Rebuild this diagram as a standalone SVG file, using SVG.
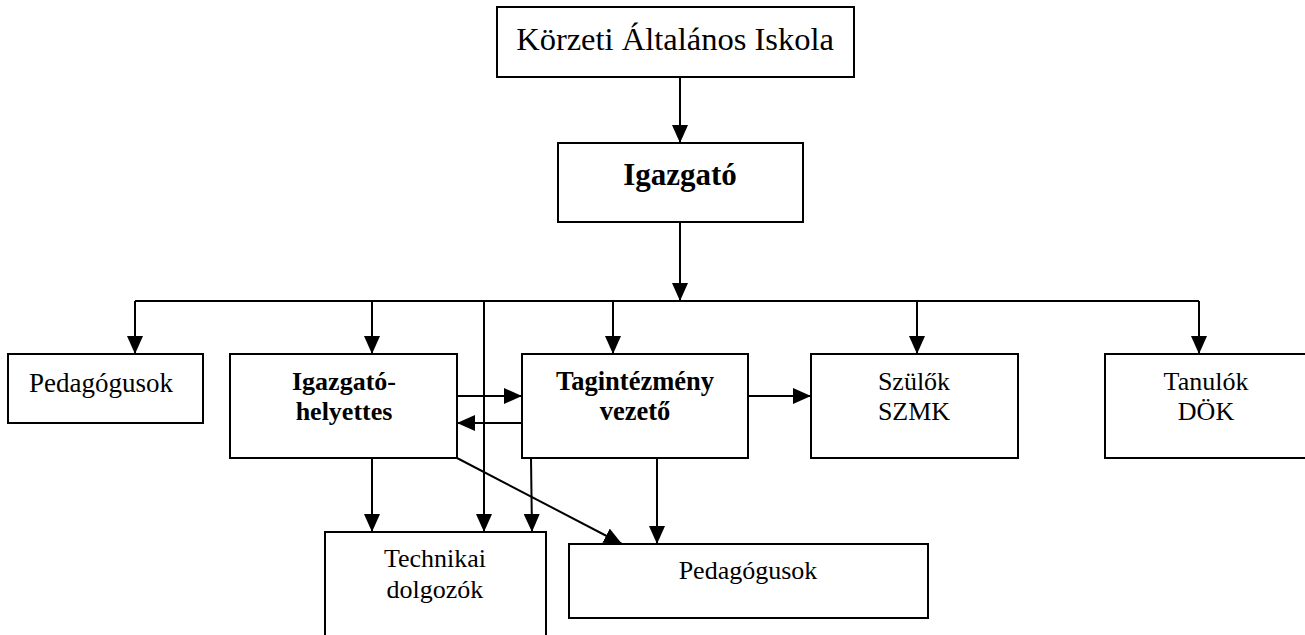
<svg xmlns="http://www.w3.org/2000/svg" width="1305" height="635" viewBox="0 0 1305 635">
<style>
.box{fill:#fff;stroke:#000;stroke-width:2}
.t{font-family:"Liberation Serif","Times New Roman",serif;text-anchor:middle;fill:#000}
.b{font-weight:bold}
.c{stroke:#000;stroke-width:2;fill:none}
.a{marker-end:url(#ah)}
</style>
<defs>
<marker id="ah" viewBox="0 0 18 16" refX="18" refY="8" markerWidth="18" markerHeight="16" markerUnits="userSpaceOnUse" orient="auto">
<path d="M0,0 L18,8 L0,16 z" fill="#000"/>
</marker>
</defs>
<g id="connectors">
<line class="c a" x1="680" y1="77" x2="680" y2="143"/>
<line class="c a" x1="680" y1="222" x2="680" y2="301"/>
<line class="c" x1="135" y1="301" x2="1199" y2="301"/>
<line class="c a" x1="135" y1="301" x2="135" y2="354"/>
<line class="c a" x1="372" y1="301" x2="372" y2="354"/>
<line class="c a" x1="613" y1="301" x2="613" y2="354"/>
<line class="c a" x1="917" y1="301" x2="917" y2="354"/>
<line class="c a" x1="1199" y1="301" x2="1199" y2="354"/>
<line class="c a" x1="484" y1="301" x2="484" y2="532"/>
<line class="c a" x1="457" y1="396" x2="522" y2="396"/>
<line class="c a" x1="522" y1="423" x2="457" y2="423"/>
<line class="c a" x1="748" y1="396" x2="811" y2="396"/>
<line class="c a" x1="372" y1="458" x2="372" y2="532"/>
<line class="c a" x1="531" y1="458" x2="532" y2="532"/>
<line class="c a" x1="457" y1="458" x2="622" y2="544"/>
<line class="c a" x1="657" y1="458" x2="657" y2="544"/>
</g>
<g id="n-korzeti">
<rect class="box" x="497" y="7" width="357" height="70"/>
<text class="t" x="675" y="50" font-size="32.5">Körzeti Általános Iskola</text>
</g>
<g id="n-igazgato">
<rect class="box" x="558" y="143" width="245" height="79"/>
<text class="t b" x="680" y="185" font-size="31">Igazgató</text>
</g>
<g id="n-pedagogusok1">
<rect class="box" x="8" y="354" width="195" height="69"/>
<text class="t" x="101" y="392" font-size="27">Pedagógusok</text>
</g>
<g id="n-helyettes">
<rect class="box" x="230" y="354" width="227" height="104"/>
<text class="t b" x="344" y="390" font-size="26">Igazgató-</text>
<text class="t b" x="344" y="420" font-size="26">helyettes</text>
</g>
<g id="n-tagintezmeny">
<rect class="box" x="522" y="354" width="226" height="104"/>
<text class="t b" x="635" y="390" font-size="26.5">Tagintézmény</text>
<text class="t b" x="635" y="420" font-size="26.5">vezető</text>
</g>
<g id="n-szulok">
<rect class="box" x="811" y="354" width="207" height="104"/>
<text class="t" x="914" y="390" font-size="26">Szülők</text>
<text class="t" x="914" y="420" font-size="26">SZMK</text>
</g>
<g id="n-tanulok">
<rect class="box" x="1105" y="354" width="210" height="104"/>
<text class="t" x="1206" y="390" font-size="26">Tanulók</text>
<text class="t" x="1206" y="420" font-size="26">DÖK</text>
</g>
<g id="n-technikai">
<rect class="box" x="325" y="532" width="221" height="120"/>
<text class="t" x="435" y="567" font-size="26">Technikai</text>
<text class="t" x="435" y="598" font-size="26">dolgozók</text>
</g>
<g id="n-pedagogusok2">
<rect class="box" x="569" y="544" width="359" height="74"/>
<text class="t" x="748" y="579" font-size="26">Pedagógusok</text>
</g>
</svg>
